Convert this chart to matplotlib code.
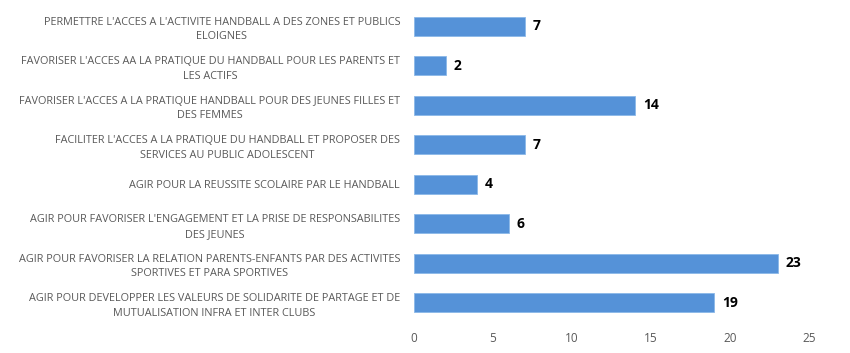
import matplotlib.pyplot as plt
import numpy as np

# DATA (top to bottom as displayed)
categories = [
    "PERMETTRE L'ACCES A L'ACTIVITE HANDBALL A DES ZONES ET PUBLICS\nELOIGNES",
    "FAVORISER L'ACCES AA LA PRATIQUE DU HANDBALL POUR LES PARENTS ET\nLES ACTIFS",
    "FAVORISER L'ACCES A LA PRATIQUE HANDBALL POUR DES JEUNES FILLES ET\nDES FEMMES",
    "FACILITER L'ACCES A LA PRATIQUE DU HANDBALL ET PROPOSER DES\nSERVICES AU PUBLIC ADOLESCENT",
    "AGIR POUR LA REUSSITE SCOLAIRE PAR LE HANDBALL",
    "AGIR POUR FAVORISER L'ENGAGEMENT ET LA PRISE DE RESPONSABILITES\nDES JEUNES",
    "AGIR POUR FAVORISER LA RELATION PARENTS-ENFANTS PAR DES ACTIVITES\nSPORTIVES ET PARA SPORTIVES",
    "AGIR POUR DEVELOPPER LES VALEURS DE SOLIDARITE DE PARTAGE ET DE\nMUTUALISATION INFRA ET INTER CLUBS",
]
values = [7, 2, 14, 7, 4, 6, 23, 19]
xticks = [0, 5, 10, 15, 20, 25]

plt.rcParams['font.family'] = ['Open Sans', 'DejaVu Sans']
grey = '#595959'

fig = plt.figure(figsize=(8.5, 3.53), dpi=100)
ax = fig.add_axes([0.487, 0.087, 0.465, 0.895])

y = np.arange(len(values))
ax.barh(y, values, height=0.48, color='#5592d8', edgecolor='#8ab8e8', linewidth=0.6)
ax.set_ylim(len(values) - 0.5, -0.5)
ax.set_xlim(0, 25)

for yi, v in zip(y, values):
    ax.text(v + 0.5, yi, str(v), va='center', ha='left',
            fontsize=10, fontweight='bold', color='black')

ax.set_yticks(y)
ax.set_yticklabels(categories, fontsize=7.8, color=grey,
                   multialignment='center', linespacing=1.45)
ax.set_xticks(xticks)
ax.set_xticklabels([str(t) for t in xticks], fontsize=8.5, color=grey)
ax.tick_params(axis='both', length=0)
ax.tick_params(axis='y', pad=10)
ax.tick_params(axis='x', pad=7)
for s in ax.spines.values():
    s.set_visible(False)

plt.savefig('out.png', dpi=100)
